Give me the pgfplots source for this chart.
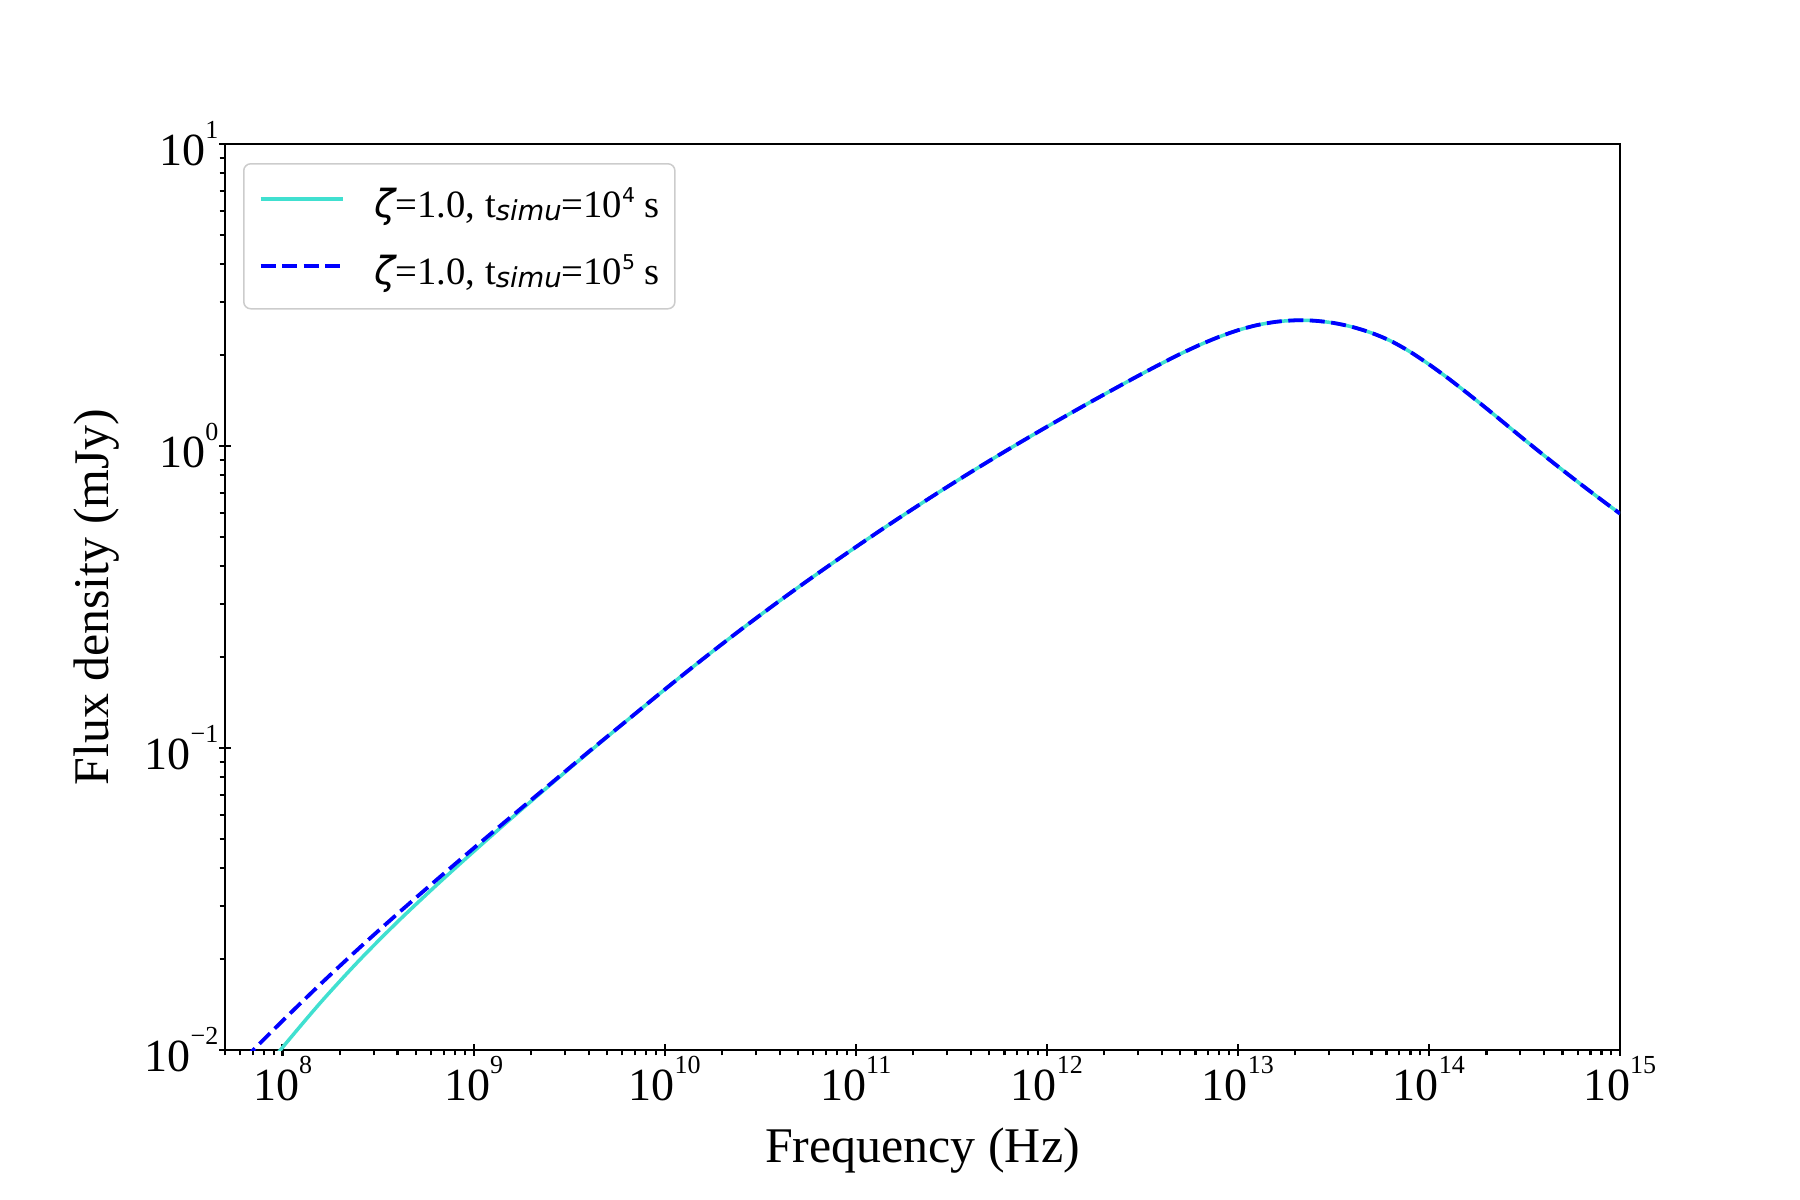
\documentclass[border=0pt]{standalone}
\usepackage{fontspec}
\setmainfont{Liberation Serif}
\newfontfamily\dejavu{DejaVu Sans}
\usepackage{pgfplots}
\pgfplotsset{compat=1.18}
\definecolor{turq}{RGB}{64,224,208}
\newcommand{\tk}[1]{10\raisebox{2.7mm}{\fontsize{7.4pt}{7.4pt}\selectfont #1}}
\newcommand{\lgd}[1]{{\dejavu\itshape ζ}=1.0, t\raisebox{-0.35mm}{\fontsize{7.8pt}{7.8pt}\selectfont\dejavu\itshape simu}=10\raisebox{1.5mm}{\fontsize{5.8pt}{5.8pt}\selectfont\dejavu #1} s}

\pgfplotstableread{
x y
7.9433e7 0.0085114
1e8 0.010200
1.5849e8 0.014385
2.5119e8 0.019765
3.9811e8 0.026496
6.3096e8 0.034871
1e9 0.045394
1.5849e9 0.058684
2.5119e9 0.075425
3.9811e9 0.096494
6.3096e9 0.12296
1e10 0.15613
1.5849e10 0.19713
2.5119e10 0.24689
3.9811e10 0.30673
6.3096e10 0.37802
1e11 0.46268
1.5849e11 0.56299
2.5119e11 0.68075
3.9811e11 0.81752
6.3096e11 0.97555
1e12 1.1574
1.5849e12 1.3662
2.5119e12 1.6051
3.1623e12 1.7369
3.9811e12 1.8761
5.0119e12 2.0195
6.3096e12 2.1615
7.9433e12 2.2962
1e13 2.4169
1.2589e13 2.5133
1.5849e13 2.5778
1.9953e13 2.6071
2.5119e13 2.5996
3.1623e13 2.5560
3.9811e13 2.4780
5.0119e13 2.3678
6.3096e13 2.2276
7.9433e13 2.0535
1e14 1.8643
1.2589e14 1.6769
1.5849e14 1.4980
1.9953e14 1.3335
2.5119e14 1.1830
3.1623e14 1.0495
3.9811e14 0.93325
5.0119e14 0.83176
6.3096e14 0.74300
7.9433e14 0.66526
1e15 0.59704
}\cyandata

\pgfplotstableread{
x y
6.3096e7 0.0093390
1e8 0.012491
1.5849e8 0.016561
2.5119e8 0.021717
3.9811e8 0.028184
6.3096e8 0.036316
1e9 0.046559
1.5849e9 0.059496
2.5119e9 0.075909
3.9811e9 0.096895
6.3096e9 0.12296
1e10 0.15613
1.5849e10 0.19713
2.5119e10 0.24689
3.9811e10 0.30673
6.3096e10 0.37802
1e11 0.46268
1.5849e11 0.56299
2.5119e11 0.68075
3.9811e11 0.81752
6.3096e11 0.97555
1e12 1.1574
1.5849e12 1.3662
2.5119e12 1.6051
3.1623e12 1.7369
3.9811e12 1.8761
5.0119e12 2.0195
6.3096e12 2.1615
7.9433e12 2.2962
1e13 2.4169
1.2589e13 2.5133
1.5849e13 2.5778
1.9953e13 2.6071
2.5119e13 2.5996
3.1623e13 2.5560
3.9811e13 2.4780
5.0119e13 2.3678
6.3096e13 2.2276
7.9433e13 2.0535
1e14 1.8643
1.2589e14 1.6769
1.5849e14 1.4980
1.9953e14 1.3335
2.5119e14 1.1830
3.1623e14 1.0495
3.9811e14 0.93325
5.0119e14 0.83176
6.3096e14 0.74300
7.9433e14 0.66526
1e15 0.59704
}\bluedata

\begin{document}
\begin{tikzpicture}
\useasboundingbox (0,0) rectangle (180mm,120mm);
\begin{axis}[
  at={(22.5mm,15mm)}, anchor=south west,
  scale only axis, width=139.5mm, height=90.6mm,
  xmode=log, ymode=log,
  xmin=5e7, xmax=1e15, ymin=1e-2, ymax=1e1,
  xtick={1e8,1e9,1e10,1e11,1e12,1e13,1e14,1e15},
  xticklabels={\tk{8},\tk{9},\tk{10},\tk{11},\tk{12},\tk{13},\tk{14},\tk{15}},
  ytick={1e-2,1e-1,1e0,1e1},
  yticklabels={\tk{−2},\tk{−1},\tk{0},\tk{1}},
  minor xtick={5e7,6e7,7e7,8e7,9e7,
    2e8,3e8,4e8,5e8,6e8,7e8,8e8,9e8,
    2e9,3e9,4e9,5e9,6e9,7e9,8e9,9e9,
    2e10,3e10,4e10,5e10,6e10,7e10,8e10,9e10,
    2e11,3e11,4e11,5e11,6e11,7e11,8e11,9e11,
    2e12,3e12,4e12,5e12,6e12,7e12,8e12,9e12,
    2e13,3e13,4e13,5e13,6e13,7e13,8e13,9e13,
    2e14,3e14,4e14,5e14,6e14,7e14,8e14,9e14},
  minor ytick={2e-2,3e-2,4e-2,5e-2,6e-2,7e-2,8e-2,9e-2,
    2e-1,3e-1,4e-1,5e-1,6e-1,7e-1,8e-1,9e-1,
    2,3,4,5,6,7,8,9},
  extra x ticks={1e8,1e9,1e10,1e11,1e12,1e13,1e14,1e15},
  extra x tick labels={\empty,\empty,\empty,\empty,\empty,\empty,\empty,\empty},
  extra y ticks={1e-2,1e-1,1e0,1e1},
  extra y tick labels={\empty,\empty,\empty,\empty},
  extra tick style={tick align=inside, major tick length=0.6mm},
  xtick pos=bottom, ytick pos=left,
  tick align=outside,
  major tick length=0.6mm, minor tick length=0.55mm,
  tick style={black, line width=0.22mm},
  axis line style={line width=0.25mm},
  tick label style={font=\fontsize{13.1pt}{13.1pt}\selectfont},
  xticklabel style={anchor=north, inner sep=0pt},
  yticklabel style={anchor=east, inner sep=0pt},
  xlabel={Frequency (Hz)},
  ylabel={Flux density (mJy)},
  label style={font=\fontsize{14.2pt}{14.2pt}\selectfont, inner sep=0pt},
  xlabel style={at={(axis description cs:0.5,-0.1247)}, anchor=base},
  ylabel style={at={(axis description cs:-0.08387,0.5)}, anchor=base},
  legend cell align=left,
  legend image code/.code={\draw[#1] (0mm,0.4mm) -- (8.2mm,0.4mm);},
  legend style={
    at={(axis description cs:0.0129,0.979)}, anchor=north west,
    draw=black!20, line width=0.15mm, rounded corners=0.7mm,
    fill=white, fill opacity=0.8, text opacity=1,
    inner xsep=1.5mm, inner ysep=1.45mm,
    row sep=1.8mm,
    font=\fontsize{11pt}{11pt}\selectfont,
    nodes={inner sep=0pt, text height=3.9mm, text depth=1mm},
    /tikz/every odd column/.append style={column sep=3mm},
  },
]
\addplot[turq, line width=0.35mm, smooth] table {\cyandata};
\addlegendentry{\lgd{4}}
\addplot[blue, line width=0.38mm, dash pattern=on 1.5mm off 0.65mm, smooth] table {\bluedata};
\addlegendentry{\lgd{5}}
\end{axis}
\end{tikzpicture}
\end{document}
